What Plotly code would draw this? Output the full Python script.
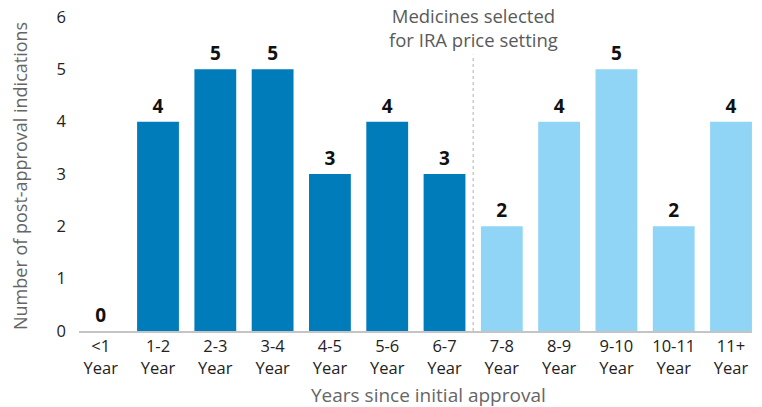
import plotly.graph_objects as go

categories = ["<1<br>Year", "1-2<br>Year", "2-3<br>Year", "3-4<br>Year", "4-5<br>Year",
              "5-6<br>Year", "6-7<br>Year", "7-8<br>Year", "8-9<br>Year", "9-10<br>Year",
              "10-11<br>Year", "11+<br>Year"]
values = [0, 4, 5, 5, 3, 4, 3, 2, 4, 5, 2, 4]
selected = [False] * 7 + [True] * 5
y_ticks = [0, 1, 2, 3, 4, 5, 6]

DARK = "#007cba"
LIGHT = "#91d5f6"
FONT = "Open Sans"

x = list(range(len(categories)))
fig = go.Figure()
fig.add_trace(go.Bar(
    x=x, y=values,
    marker=dict(color=[LIGHT if s else DARK for s in selected], line=dict(width=0)),
    width=0.73,
    text=[str(v) for v in values],
    textposition="outside",
    textfont=dict(family=FONT, size=19, color="#111111", weight="bold"),
    cliponaxis=False,
    hoverinfo="skip",
))

split = 6.5
fig.add_shape(type="line", xref="x", yref="paper", x0=split, x1=split, y0=0, y1=0.88,
              line=dict(color="#b0b0b0", width=1, dash="dot"))
fig.add_annotation(xref="x", yref="paper", x=split, y=1.052, yanchor="top",
                   text="Medicines selected<br>for IRA price setting", showarrow=False,
                   font=dict(family=FONT, size=18.5, color="#5a5a5a"), align="center")

# axis titles
fig.add_annotation(xref="paper", yref="paper", x=(428 - 79) / 673, y=-(395 - 331) / 314,
                   yanchor="middle", xanchor="center", showarrow=False,
                   text="Years since initial approval",
                   font=dict(family=FONT, size=19, color="#666666"))
fig.add_annotation(xref="paper", yref="paper", x=-(79 - 20) / 673, y=(331 - 176) / 314,
                   yanchor="middle", xanchor="center", showarrow=False, textangle=-90,
                   text="Number of post-approval indications",
                   font=dict(family=FONT, size=18, color="#666666"))

fig.update_layout(
    width=762, height=407,
    margin=dict(l=79, r=10, t=17, b=76),
    paper_bgcolor="white", plot_bgcolor="white",
    showlegend=False,
    font=dict(family=FONT, color="#222222"),
    xaxis=dict(
        range=[-0.379, 11.366],
        tickmode="array", tickvals=x, ticktext=categories,
        tickfont=dict(family=FONT, size=16.5, color="#222222"),
        showgrid=False, zeroline=False,
        showline=True, linecolor="#c4c4c4", linewidth=1.5,
        ticks="", automargin=False,
    ),
    yaxis=dict(
        range=[0, 6],
        tickmode="array", tickvals=y_ticks,
        tickfont=dict(family=FONT, size=16.5, color="#222222"),
        showgrid=False, zeroline=False, showline=False,
        ticklabelstandoff=12, automargin=False, ticklabeloverflow="allow",
    ),
)

# remove the browser's default 8px body margin so the figure fills the window
fig.write_html("out.html",
               config={"displayModeBar": False, "staticPlot": True},
               post_script="document.body.style.margin='0';document.body.style.overflow='hidden';")
